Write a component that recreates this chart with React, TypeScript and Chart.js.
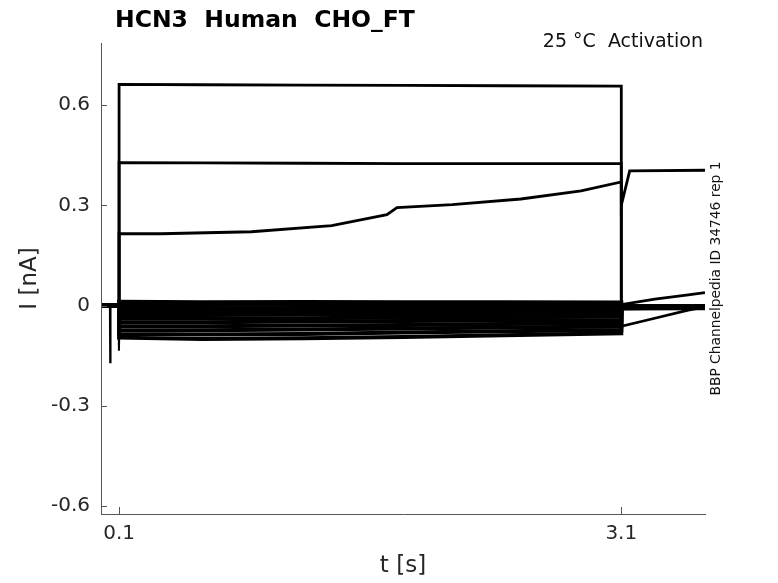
import React, { useEffect, useRef } from 'react';
import { Chart, registerables } from 'chart.js';

Chart.register(...registerables);

const FONT = '"DejaVu Sans", sans-serif';
const AXIS_COLOR = '#555555';
const TEXT_COLOR = '#262626';

const titleText = 'HCN3  Human  CHO_FT';
const noteText = '25 °C  Activation';
const sideText = 'BBP Channelpedia ID 34746 rep 1';
const xTitle = 't [s]';
const yTitle = 'I [nA]';

const xTicks = [0.1, 3.1];
const xTickLabels = ['0.1', '3.1'];
const yTicks = [-0.6, -0.3, 0, 0.3, 0.6];
const yTickLabels = ['-0.6', '-0.3', '0', '0.3', '0.6'];

// shared time base of the sweeps that stay near zero
const bandT = [0, 0.1, 0.1, 0.6, 1.2, 1.8, 2.4, 3.1, 3.1, 3.6];
const band0 = [0, 0, 0.011, 0.010, 0.011, 0.010, 0.010, 0.009, -0.001, -0.002];
const band1 = [0, 0, 0.002, 0.002, 0.003, 0.002, 0.002, 0.001, -0.004, -0.005];
const band2 = [0, 0, -0.008, -0.008, -0.007, -0.007, -0.006, -0.006, -0.007, -0.008];
const band3 = [0, 0, -0.018, -0.018, -0.017, -0.016, -0.016, -0.015, -0.003, -0.003];
const band4 = [0, 0, -0.028, -0.028, -0.027, -0.026, -0.025, -0.024, -0.005, -0.006];
const band5 = [0, 0, -0.039, -0.039, -0.038, -0.036, -0.035, -0.033, -0.002, -0.003];
const band6 = [0, 0, -0.050, -0.050, -0.048, -0.046, -0.045, -0.043, -0.006, -0.007];
const band7 = [0, 0, -0.061, -0.062, -0.060, -0.058, -0.055, -0.052, -0.004, -0.004];
const band8 = [0, 0, -0.073, -0.074, -0.072, -0.069, -0.066, -0.063, -0.008, -0.006];
const band9 = [0, 0, -0.085, -0.087, -0.085, -0.081, -0.077, -0.073, -0.003, -0.002];
const band10 = [0, 0, -0.096, -0.100, -0.098, -0.094, -0.089, -0.083, -0.009, -0.007];

// large sweeps
const bigT = [0, 0.1, 0.1, 0.6, 1.2, 1.8, 2.4, 3.1, 3.1, 3.3, 3.5, 3.6];
const big1 = [0, 0, 0.662, 0.661, 0.660, 0.659, 0.658, 0.657, -0.062, -0.038, -0.014, -0.004];
const big2 = [0, 0, 0.428, 0.427, 0.426, 0.425, 0.425, 0.425, 0.003, 0.019, 0.032, 0.039];

const riseT = [0, 0.1, 0.1, 0.35, 0.89, 1.37, 1.70, 1.76, 2.09, 2.5, 2.86, 3.1, 3.1, 3.15, 3.6];
const rise = [0, 0, 0.215, 0.215, 0.221, 0.239, 0.272, 0.293, 0.302, 0.319, 0.343, 0.370, 0.300, 0.403, 0.405];

// capacitive artefacts
const spike1T = [0.045, 0.047, 0.049];
const spike1 = [0, -0.17, 0];
const spike2T = [0.097, 0.099, 0.101];
const spike2 = [0, -0.135, -0.09];

const toPts = (t: number[], v: number[]) => t.map((x, i) => ({ x, y: v[i] }));

const bandSeries = [band0, band1, band2, band3, band4, band5, band6, band7, band8, band9, band10];

const decorPlugin = {
  id: 'decor',
  afterDraw(chart: any) {
    const { ctx, chartArea, scales } = chart;
    ctx.save();
    ctx.strokeStyle = AXIS_COLOR;
    ctx.lineWidth = 1;
    ctx.beginPath();
    xTicks.forEach((v) => {
      const px = Math.round(scales.x.getPixelForValue(v)) + 0.5;
      ctx.moveTo(px, chartArea.bottom);
      ctx.lineTo(px, chartArea.bottom - 7);
    });
    yTicks.forEach((v) => {
      const py = Math.round(scales.y.getPixelForValue(v)) + 0.5;
      ctx.moveTo(chartArea.left, py);
      ctx.lineTo(chartArea.left + 6, py);
    });
    ctx.stroke();

    ctx.fillStyle = '#000000';
    ctx.font = `bold 23.5px ${FONT}`;
    ctx.textAlign = 'left';
    ctx.textBaseline = 'alphabetic';
    ctx.fillText(titleText, 115, 27);

    ctx.fillStyle = '#111111';
    ctx.font = `19px ${FONT}`;
    ctx.textAlign = 'right';
    ctx.fillText(noteText, chartArea.right - 2, 47);

    ctx.translate(716, (chartArea.top + chartArea.bottom) / 2);
    ctx.rotate(-Math.PI / 2);
    ctx.font = `13.8px ${FONT}`;
    ctx.textAlign = 'center';
    ctx.textBaseline = 'middle';
    ctx.fillText(sideText, 0, 0);
    ctx.restore();
  },
};

export default function App() {
  const ref = useRef<HTMLCanvasElement | null>(null);

  useEffect(() => {
    if (!ref.current) return;
    const line = (data: { x: number; y: number }[], w: number) => ({
      data,
      borderColor: '#000000',
      backgroundColor: '#000000',
      borderWidth: w,
      pointRadius: 0,
      tension: 0,
      fill: false,
    });
    const datasets = [
      ...bandSeries.map((v) => line(toPts(bandT, v), 4)),
      line(toPts(bigT, big1), 2.8),
      line(toPts(bigT, big2), 2.8),
      line(toPts(riseT, rise), 2.8),
      line(toPts(spike1T, spike1), 2),
      line(toPts(spike2T, spike2), 2),
    ];
    const chart = new Chart(ref.current, {
      type: 'line',
      data: { datasets },
      options: {
        animation: false,
        responsive: false,
        devicePixelRatio: 1,
        layout: { padding: { top: 43, right: 73, left: 0, bottom: 0 } },
        plugins: { legend: { display: false }, title: { display: false }, tooltip: { enabled: false } },
        scales: {
          x: {
            type: 'linear',
            min: -0.008,
            max: 3.6,
            afterFit: (s: any) => { s.height = 69; },
            afterBuildTicks: (s: any) => { s.ticks = xTicks.map((value) => ({ value })); },
            grid: { display: false, drawTicks: false },
            border: { display: true, color: AXIS_COLOR, width: 1 },
            ticks: {
              padding: 8,
              color: TEXT_COLOR,
              font: { family: FONT, size: 20 },
              maxRotation: 0,
              callback: (v: any) => xTickLabels[xTicks.indexOf(Number(v))] ?? '',
            },
            title: {
              display: true,
              text: xTitle,
              color: TEXT_COLOR,
              font: { family: FONT, size: 23 },
              padding: { top: 0, bottom: 3 },
            },
          },
          y: {
            type: 'linear',
            min: -0.624,
            max: 0.786,
            afterFit: (s: any) => { s.width = 101; },
            afterBuildTicks: (s: any) => { s.ticks = yTicks.map((value) => ({ value })); },
            grid: { display: false, drawTicks: false },
            border: { display: true, color: AXIS_COLOR, width: 1 },
            ticks: {
              padding: 11,
              color: TEXT_COLOR,
              font: { family: FONT, size: 20 },
              callback: (v: any) => {
                const i = yTicks.findIndex((t) => Math.abs(t - Number(v)) < 1e-9);
                return i >= 0 ? yTickLabels[i] : '';
              },
            },
            title: {
              display: true,
              text: yTitle,
              color: TEXT_COLOR,
              font: { family: FONT, size: 23 },
              padding: { top: 16, bottom: 0 },
            },
          },
        },
      },
      plugins: [decorPlugin],
    });
    return () => chart.destroy();
  }, []);

  return (
    <div style={{ position: 'absolute', left: 0, top: 0, width: 778, height: 583, background: '#fff' }}>
      <canvas ref={ref} width={778} height={583} style={{ display: 'block' }} />
    </div>
  );
}
